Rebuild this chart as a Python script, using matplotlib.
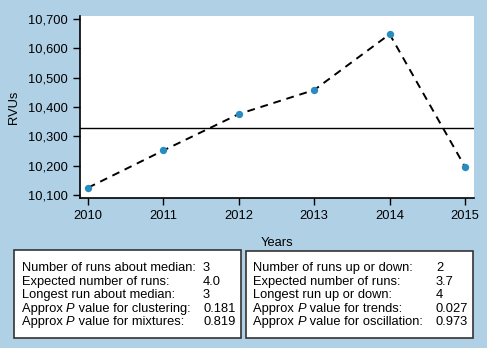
import matplotlib.pyplot as plt
from matplotlib.patches import Rectangle

plt.rcParams['font.family'] = 'Liberation Sans'

years = [2010, 2011, 2012, 2013, 2014, 2015]
rvus = [10125, 10252, 10376, 10458, 10648, 10196]
median_line = 10327
yticks = [10100, 10200, 10300, 10400, 10500, 10600, 10700]

# each label: (text before italic P, italic part, text after)
left_labels = [("Number of runs about median:", "", ""),
               ("Expected number of runs:", "", ""),
               ("Longest run about median:", "", ""),
               ("Approx ", "P", " value for clustering:"),
               ("Approx ", "P", " value for mixtures:")]
left_values = ["3", "4.0", "3", "0.181", "0.819"]
right_labels = [("Number of runs up or down:", "", ""),
                ("Expected number of runs:", "", ""),
                ("Longest run up or down:", "", ""),
                ("Approx ", "P", " value for trends:"),
                ("Approx ", "P", " value for oscillation:")]
right_values = ["2", "3.7", "4", "0.027", "0.973"]

bg = '#b0d0e6'
W, H = 487, 348
fig = plt.figure(figsize=(W / 100, H / 100), dpi=100, facecolor=bg)
ax = fig.add_axes([80 / W, 1 - 198 / H, 393.5 / W, 182 / H])
ax.set_facecolor('white')

ax.plot(years, rvus, color='black', linestyle=(0, (4, 3)), lw=1.4, zorder=2)
ax.scatter(years, rvus, s=28, color='#2a8bc0', zorder=3, linewidths=0)
ax.axhline(median_line, color='black', lw=1.0, zorder=1)

ax.set_xlim(2009.894, 2015.112)
ax.set_ylim(10090, 10710)
ax.set_xticks(years)
ax.set_yticks(yticks)
ax.set_yticklabels([f"{v:,}" for v in yticks])
ax.tick_params(labelsize=9.3, length=5, width=1, direction='out', pad=3.5)
for s in ['top', 'right']:
    ax.spines[s].set_visible(False)
for s in ['left', 'bottom']:
    ax.spines[s].set_linewidth(1.2)

ax.set_xlabel("Years", fontsize=9.3, labelpad=11)
ax.set_ylabel("RVUs", fontsize=9.3, labelpad=6)

renderer = fig.canvas.get_renderer()


def stat_box(x0, x1, y0, y1, labels, values, xl, xv):
    fig.patches.append(Rectangle((x0 / W, 1 - y1 / H), (x1 - x0) / W, (y1 - y0) / H,
                                 transform=fig.transFigure, facecolor='white',
                                 edgecolor='#333333', lw=1.2))
    for i, (parts, val) in enumerate(zip(labels, values)):
        y = 1 - (271 + i * 13.6) / H
        x = xl / W
        for part, style in zip(parts, ['normal', 'italic', 'normal']):
            if not part:
                continue
            t = fig.text(x, y, part, fontsize=9.3, style=style,
                         va='baseline', ha='left')
            x += t.get_window_extent(renderer).width / W
        fig.text(xv / W, y, val, fontsize=9.3, va='baseline', ha='left')


stat_box(14, 241, 250, 338, left_labels, left_values, 21.5, 203)
stat_box(246, 473, 251, 338, right_labels, right_values, 253, 436)

fig.savefig('out.png', dpi=100, facecolor=bg)
